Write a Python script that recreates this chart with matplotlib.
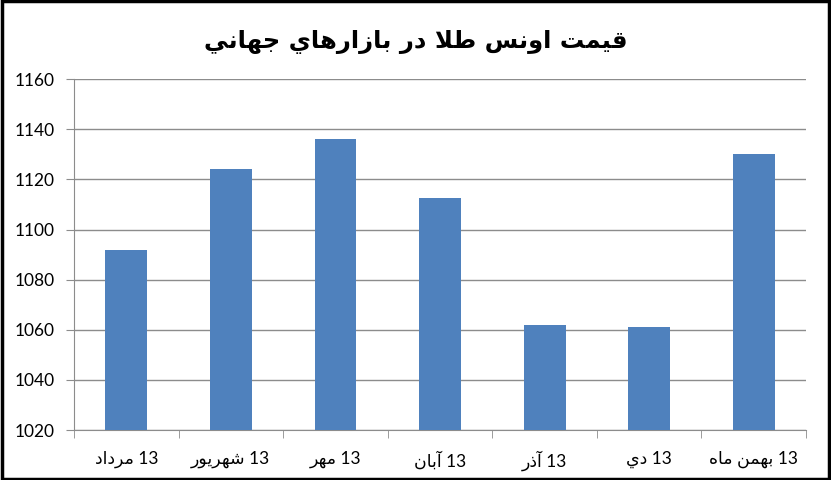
import matplotlib
matplotlib.use("Agg")
import matplotlib.pyplot as plt
from matplotlib.patches import Rectangle
from matplotlib.ticker import FixedLocator, NullFormatter

# data
categories = ["13 مرداد", "13 شهريور", "13 مهر", "13 آبان", "13 آذر", "13 دي", "13 بهمن ماه"]
prices = [1092, 1124, 1136, 1112.5, 1062, 1061, 1130]
title = "قيمت اونس طلا در بازارهاي جهاني"

# minimal arabic shaping (matplotlib has no bidi / joining support)
# forms: isolated, final, initial, medial
FORMS = {
    "ا": ("\uFE8D", "\uFE8E"),
    "آ": ("\uFE81", "\uFE82"),
    "ب": ("\uFE8F", "\uFE90", "\uFE91", "\uFE92"),
    "ت": ("\uFE95", "\uFE96", "\uFE97", "\uFE98"),
    "ج": ("\uFE9D", "\uFE9E", "\uFE9F", "\uFEA0"),
    "د": ("\uFEA9", "\uFEAA"),
    "ذ": ("\uFEAB", "\uFEAC"),
    "ر": ("\uFEAD", "\uFEAE"),
    "ز": ("\uFEAF", "\uFEB0"),
    "س": ("\uFEB1", "\uFEB2", "\uFEB3", "\uFEB4"),
    "ش": ("\uFEB5", "\uFEB6", "\uFEB7", "\uFEB8"),
    "ط": ("\uFEC1", "\uFEC2", "\uFEC3", "\uFEC4"),
    "ق": ("\uFED5", "\uFED6", "\uFED7", "\uFED8"),
    "ل": ("\uFEDD", "\uFEDE", "\uFEDF", "\uFEE0"),
    "م": ("\uFEE1", "\uFEE2", "\uFEE3", "\uFEE4"),
    "ن": ("\uFEE5", "\uFEE6", "\uFEE7", "\uFEE8"),
    "ه": ("\uFEE9", "\uFEEA", "\uFEEB", "\uFEEC"),
    "و": ("\uFEED", "\uFEEE"),
    "ي": ("\uFEF1", "\uFEF2", "\uFEF3", "\uFEF4"),
}
LAM_ALEF = ("\uFEFB", "\uFEFC")


def shape_word(word):
    # merge lam + alef into one ligature token
    chars = []
    i = 0
    while i < len(word):
        if word[i] == "ل" and i + 1 < len(word) and word[i + 1] == "ا":
            chars.append("لا")
            i += 2
        else:
            chars.append(word[i])
            i += 1
    out = []
    for k, c in enumerate(chars):
        prev = chars[k - 1] if k > 0 else None
        nxt = chars[k + 1] if k + 1 < len(chars) else None
        joins_prev = prev is not None and prev in FORMS and len(FORMS[prev]) == 4
        if c == "لا":
            out.append(LAM_ALEF[1] if joins_prev else LAM_ALEF[0])
            continue
        if c not in FORMS:
            out.append(c)
            continue
        f = FORMS[c]
        joins_next = len(f) == 4 and nxt is not None and (nxt in FORMS or nxt == "لا")
        if joins_prev and joins_next:
            out.append(f[3])
        elif joins_next:
            out.append(f[2])
        elif joins_prev:
            out.append(f[1])
        else:
            out.append(f[0])
    return "".join(reversed(out))


def rtl(text):
    parts = []
    for w in text.split(" "):
        parts.append(w if w.isdigit() else shape_word(w))
    return " ".join(reversed(parts))


fig = plt.figure(figsize=(8.31, 4.80), dpi=100)
ax = fig.add_axes([0.089, 0.104, 0.881, 0.731])

x = list(range(len(categories)))
ax.bar(x, prices, width=0.4, color="#4F81BD", zorder=3)

ax.set_ylim(1020, 1160)
ax.set_xlim(-0.5, len(categories) - 0.5)
ax.set_yticks(range(1020, 1161, 20))
ax.yaxis.grid(True, color="#8C8C8C", linewidth=1)
ax.set_axisbelow(True)

for s in ["top", "right"]:
    ax.spines[s].set_visible(False)
for s in ["left", "bottom"]:
    ax.spines[s].set_color("#8C8C8C")

ax.tick_params(axis="y", length=6, color="#8C8C8C", labelsize=12.5, pad=8)
ax.tick_params(axis="x", which="major", length=0, pad=15)
ax.tick_params(axis="x", which="minor", length=6, color="#8C8C8C")
ax.xaxis.set_minor_locator(FixedLocator([i - 0.5 for i in range(len(categories) + 1)]))
ax.xaxis.set_minor_formatter(NullFormatter())
ax.set_xticks(x)
ax.set_xticklabels([rtl(c) for c in categories], family=["Lato", "DejaVu Sans"], fontsize=12.5)
for lbl in ax.get_yticklabels():
    lbl.set_family(["Lato", "DejaVu Sans"])

fig.text(0.5, 0.912, rtl(title), ha="center", va="center", fontsize=17.5,
         fontweight="bold", family="DejaVu Sans")

# outer frame
fig.patches.append(Rectangle((0.002, 0.003), 0.996, 0.994, transform=fig.transFigure,
                             fill=False, edgecolor="black", linewidth=2.5))

plt.savefig("out.png", dpi=100)
